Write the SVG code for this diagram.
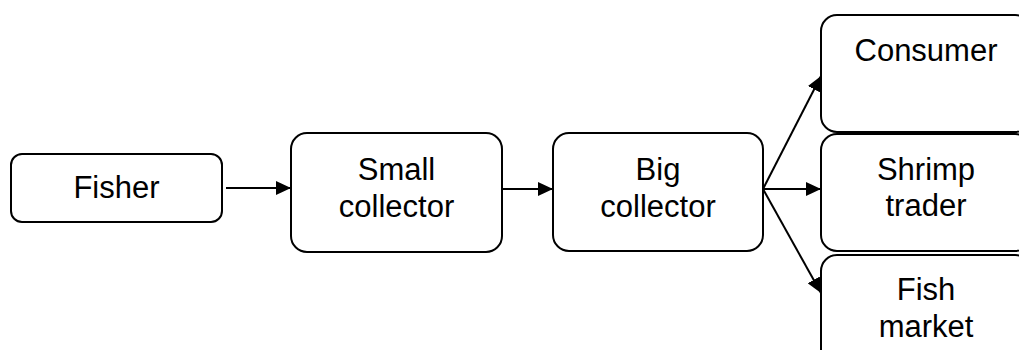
<svg xmlns="http://www.w3.org/2000/svg" width="1019" height="350" viewBox="0 0 1019 350">
<style>
.box{fill:#fff;stroke:#000;stroke-width:2}
.t{font-family:"Liberation Sans",Arial,sans-serif;font-size:31px;fill:#000;text-anchor:middle}
.c{stroke:#000;stroke-width:2;fill:none}
</style>
<defs>
<marker id="ah" markerUnits="userSpaceOnUse" markerWidth="16" markerHeight="14" refX="15" refY="7" orient="auto">
<path d="M0,0 L15,7 L0,14 Z" fill="#000"/>
</marker>
</defs>
<rect width="1019" height="350" fill="#fff"/>
<g id="connectors">
<line class="c" x1="226" y1="188" x2="291" y2="188" marker-end="url(#ah)"/>
<line class="c" x1="502" y1="189" x2="553" y2="189" marker-end="url(#ah)"/>
<line class="c" x1="763" y1="189" x2="821" y2="76" marker-end="url(#ah)"/>
<line class="c" x1="763" y1="189" x2="821" y2="189" marker-end="url(#ah)"/>
<line class="c" x1="763" y1="189" x2="821" y2="293" marker-end="url(#ah)"/>
</g>
<g id="fisher">
<rect class="box" x="11" y="154" width="211" height="68" rx="11"/>
<text class="t" x="116.5" y="198">Fisher</text>
</g>
<g id="small-collector">
<rect class="box" x="291" y="133" width="211" height="119" rx="16"/>
<text class="t" x="396.5" y="180">Small</text>
<text class="t" x="396.5" y="217">collector</text>
</g>
<g id="big-collector">
<rect class="box" x="553" y="133" width="210" height="118" rx="16"/>
<text class="t" x="658" y="180">Big</text>
<text class="t" x="658" y="217">collector</text>
</g>
<g id="consumer">
<rect class="box" x="821" y="15" width="210" height="117" rx="16"/>
<text class="t" x="926" y="61">Consumer</text>
</g>
<g id="shrimp-trader">
<rect class="box" x="821" y="134" width="210" height="117" rx="16"/>
<text class="t" x="926" y="180">Shrimp</text>
<text class="t" x="926" y="216">trader</text>
</g>
<g id="fish-market">
<rect class="box" x="821" y="255" width="210" height="117" rx="16"/>
<text class="t" x="926" y="300">Fish</text>
<text class="t" x="926" y="337">market</text>
</g>
</svg>
